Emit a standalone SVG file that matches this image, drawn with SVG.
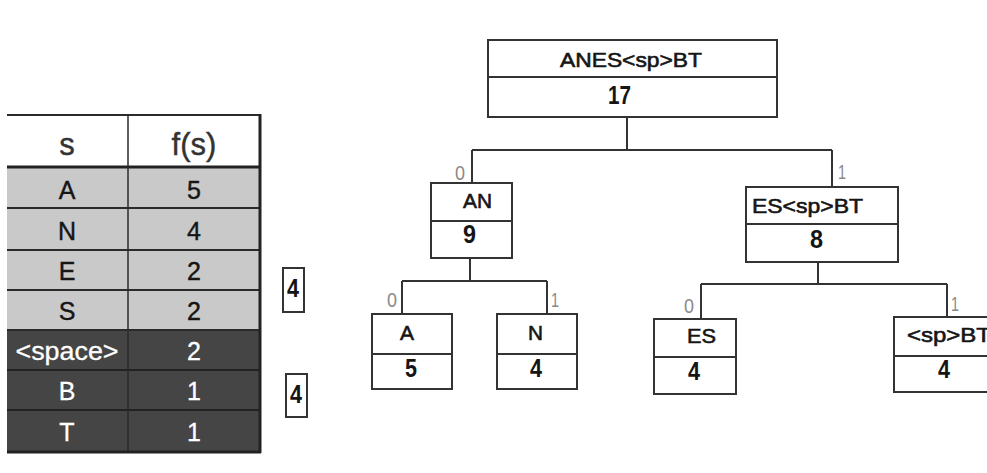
<svg xmlns="http://www.w3.org/2000/svg" width="987" height="473" viewBox="0 0 987 473">
<style>
.box{fill:#fff;stroke:#333;stroke-width:2}
.ln{fill:none;stroke:#333;stroke-width:2}
.tt{font-family:"Liberation Sans",Arial,sans-serif;font-size:21px;fill:#151515;stroke:#151515;stroke-width:0.6}
.dg{font-family:"Liberation Sans",Arial,sans-serif;font-size:25px;font-weight:bold;fill:#151515}
.bit{font-family:"Liberation Sans",Arial,sans-serif;font-size:21px;fill:#8a8a8a}
.th{font-family:"Liberation Sans",Arial,sans-serif;font-size:31px;fill:#333;text-anchor:middle;stroke:#333;stroke-width:0.4}
.tr{font-family:"Liberation Sans",Arial,sans-serif;font-size:25px;text-anchor:middle}
.lt{fill:#c9c9c9}
.dk{fill:#454545}
.sep{stroke:#2a2a2a;stroke-width:2}
</style>
<rect width="987" height="473" fill="#fff"/>
<g id="table">
<rect x="7" y="115" width="253" height="52" fill="#fff"/>
<rect class="lt" x="7" y="167" width="253" height="163"/>
<rect class="dk" x="7" y="330" width="253" height="122"/>
<line class="sep" x1="7" y1="115" x2="261" y2="115"/>
<line x1="7" y1="167" x2="261" y2="167" stroke="#222" stroke-width="3"/>
<line class="sep" x1="7" y1="208" x2="261" y2="208"/>
<line class="sep" x1="7" y1="250" x2="261" y2="250"/>
<line class="sep" x1="7" y1="290" x2="261" y2="290"/>
<line class="sep" x1="7" y1="330" x2="261" y2="330"/>
<line x1="7" y1="370" x2="261" y2="370" stroke="#222" stroke-width="2"/>
<line x1="7" y1="410" x2="261" y2="410" stroke="#222" stroke-width="2"/>
<line x1="128" y1="115" x2="128" y2="452" stroke="#2a2a2a" stroke-width="1.5"/>
<line x1="260" y1="114" x2="260" y2="453" stroke="#222" stroke-width="3"/>
<line x1="7" y1="452" x2="261" y2="452" stroke="#222" stroke-width="3"/>
<text class="th" x="67" y="155">s</text>
<text class="th" x="194" y="155">f(s)</text>
<g class="tr" fill="#151515" stroke="#151515" stroke-width="0.4">
<text x="67" y="199">A</text><text x="194" y="199">5</text>
<text x="67" y="240">N</text><text x="194" y="240">4</text>
<text x="67" y="280">E</text><text x="194" y="280">2</text>
<text x="67" y="320">S</text><text x="194" y="320">2</text>
</g>
<g class="tr" fill="#fff" stroke="#fff" stroke-width="0.3">
<text x="67" y="360" textLength="103" lengthAdjust="spacingAndGlyphs">&lt;space&gt;</text><text x="194" y="360">2</text>
<text x="67" y="400">B</text><text x="194" y="400">1</text>
<text x="67" y="441">T</text><text x="194" y="441">1</text>
</g>
</g>
<g id="connectors">
<path class="ln" d="M627 117V150M472 150H832M472 150V183M832 150V187"/>
<path class="ln" d="M470 258V281M402 281H547M402 281V314M547 281V314"/>
<path class="ln" d="M818 262V284M701 284H947M701 284V319M947 284V317"/>
<text class="bit" x="455" y="180" textLength="10" lengthAdjust="spacingAndGlyphs">0</text>
<text class="bit" x="838" y="179" textLength="8" lengthAdjust="spacingAndGlyphs">1</text>
<text class="bit" x="387" y="307" textLength="10" lengthAdjust="spacingAndGlyphs">0</text>
<text class="bit" x="551" y="307" textLength="8" lengthAdjust="spacingAndGlyphs">1</text>
<text class="bit" x="684" y="313" textLength="10" lengthAdjust="spacingAndGlyphs">0</text>
<text class="bit" x="951" y="311" textLength="8" lengthAdjust="spacingAndGlyphs">1</text>
</g>
<g id="n-root">
<rect class="box" x="488" y="40" width="289" height="77"/>
<line class="ln" x1="488" y1="77" x2="777" y2="77"/>
<text class="tt" x="560" y="67" textLength="142" lengthAdjust="spacingAndGlyphs">ANES&lt;sp&gt;BT</text>
<text class="dg" x="608" y="104" textLength="23" lengthAdjust="spacingAndGlyphs">17</text>
</g>
<g id="n-AN">
<rect class="box" x="431" y="183" width="81" height="75"/>
<line class="ln" x1="431" y1="221" x2="512" y2="221"/>
<text class="tt" x="463" y="208" textLength="29" lengthAdjust="spacingAndGlyphs">AN</text>
<text class="dg" x="463" y="243" textLength="13" lengthAdjust="spacingAndGlyphs">9</text>
</g>
<g id="n-ESspBT">
<rect class="box" x="746" y="187" width="152" height="75"/>
<line class="ln" x1="746" y1="224" x2="898" y2="224"/>
<text class="tt" x="752" y="213" textLength="111" lengthAdjust="spacingAndGlyphs">ES&lt;sp&gt;BT</text>
<text class="dg" x="810" y="248" textLength="13" lengthAdjust="spacingAndGlyphs">8</text>
</g>
<g id="n-A">
<rect class="box" x="372" y="314" width="80" height="75"/>
<line class="ln" x1="372" y1="354" x2="452" y2="354"/>
<text class="tt" x="400" y="340" textLength="14" lengthAdjust="spacingAndGlyphs">A</text>
<text class="dg" x="405" y="377" textLength="12" lengthAdjust="spacingAndGlyphs">5</text>
</g>
<g id="n-N">
<rect class="box" x="497" y="314" width="80" height="75"/>
<line class="ln" x1="497" y1="354" x2="577" y2="354"/>
<text class="tt" x="528" y="340" textLength="15" lengthAdjust="spacingAndGlyphs">N</text>
<text class="dg" x="530" y="377" textLength="12" lengthAdjust="spacingAndGlyphs">4</text>
</g>
<g id="n-ES">
<rect class="box" x="654" y="319" width="82" height="75"/>
<line class="ln" x1="654" y1="357" x2="736" y2="357"/>
<text class="tt" x="687" y="343" textLength="29" lengthAdjust="spacingAndGlyphs">ES</text>
<text class="dg" x="688" y="380" textLength="12" lengthAdjust="spacingAndGlyphs">4</text>
</g>
<g id="n-spBT">
<rect class="box" x="894" y="317" width="120" height="75"/>
<line class="ln" x1="894" y1="356" x2="987" y2="356"/>
<text class="tt" x="907" y="342" textLength="84" lengthAdjust="spacingAndGlyphs">&lt;sp&gt;BT</text>
<text class="dg" x="938" y="378" textLength="12" lengthAdjust="spacingAndGlyphs">4</text>
</g>
<g id="n-4a">
<rect class="box" x="283" y="268" width="21" height="44" stroke-width="1.5"/>
<text class="dg" x="287" y="297" textLength="12" lengthAdjust="spacingAndGlyphs">4</text>
</g>
<g id="n-4b">
<rect class="box" x="286" y="374" width="21" height="43" stroke-width="1.5"/>
<text class="dg" x="290" y="403" textLength="12" lengthAdjust="spacingAndGlyphs">4</text>
</g>
</svg>
